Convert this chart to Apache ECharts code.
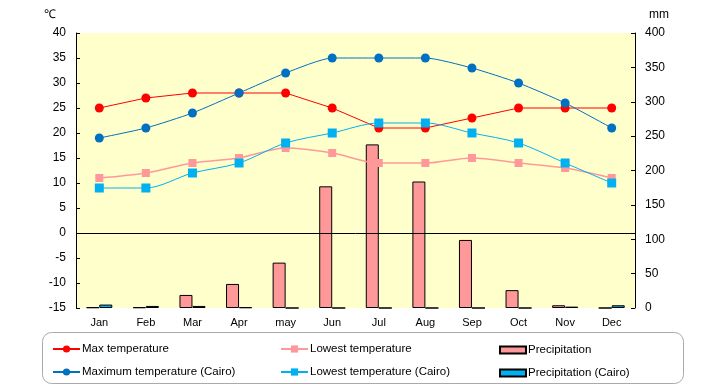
<!DOCTYPE html>
<html><head><meta charset="utf-8">
<script src="https://cdn.jsdelivr.net/npm/echarts@6/dist/echarts.min.js"></script>
<style>html,body{margin:0;padding:0;background:#fff}#c{width:720px;height:385px}</style>
</head><body><div id="c"></div>
<script>
const months = ['Jan','Feb','Mar','Apr','may','Jun','Jul','Aug','Sep','Oct','Nov','Dec'];
const maxTemp = [25,27,28,28,28,25,21,21,23,25,25,25];
const lowTemp = [11,12,14,15,17,16,14,14,15,14,13,11];
const maxCairo = [19,21,24,28,32,35,35,35,33,30,26,21];
const lowCairo = [9,9,12,14,18,20,22,22,20,18,14,10];
const precip = [1,1,19,35,66,177,238,184,99,26,4,0];
const precipCairo = [5,3,3,1,0,0,0,0,0,0,2,4];
const tempTicks = {min:-15,max:40,interval:5};
const precipTicks = {min:0,max:400,interval:50};

const FONT = '"Liberation Sans", Arial, sans-serif';
const legendPos = [
  ['Max temperature',52,343,27,9,null],
  ['Maximum temperature (Cairo)',52,366,27,9,null],
  ['Lowest temperature',280,343,27,9,null],
  ['Lowest temperature (Cairo)',280,366,27,9,null],
  ['Precipitation',499,344,26,7,'rect'],
  ['Precipitation (Cairo)',499,367,26,7,'rect']
];
const chart = echarts.init(document.getElementById('c'));
chart.setOption({
  animation:false,
  textStyle:{fontFamily:FONT},
  grid:{left:76,right:85,top:33,bottom:77,show:true,backgroundColor:'#ffffcc',borderWidth:0},
  graphic:[
    {type:'text',left:44,top:9,style:{text:'℃',font:'12px '+FONT,fill:'#000'}},
    {type:'text',left:649,top:9,style:{text:'mm',font:'12px '+FONT,fill:'#000'}},
    {type:'rect',shape:{x:42.5,y:332.5,width:641,height:51,r:9},style:{fill:'#fff',stroke:'#aaa',lineWidth:1},z:-1}
  ],
  legend:legendPos.map(([n,l,t,w,h,ic])=>{
    const o={left:l,top:t,padding:0,itemWidth:w,itemHeight:h,
      textStyle:{fontSize:11.5,fontFamily:FONT,color:'#000',padding:[0,0,0,-3]},data:[n]};
    if(ic) o.icon=ic;
    return o;
  }),
  xAxis:{type:'category',data:months,boundaryGap:true,axisLine:{show:false},axisTick:{show:false},
    axisLabel:{color:'#000',fontSize:11,margin:9}},
  yAxis:[
    {type:'value',min:tempTicks.min,max:tempTicks.max,interval:tempTicks.interval,
      axisLine:{show:true,lineStyle:{color:'#000'}},axisTick:{show:true,inside:true,length:4,lineStyle:{color:'#000'}},
      splitLine:{show:false},axisLabel:{color:'#000',fontSize:12,margin:10}},
    {type:'value',min:precipTicks.min,max:precipTicks.max,interval:precipTicks.interval,position:'right',
      axisLine:{show:true,lineStyle:{color:'#000'}},axisTick:{show:true,inside:true,length:4,lineStyle:{color:'#000'}},
      splitLine:{show:false},axisLabel:{color:'#000',fontSize:12,margin:10}}
  ],
  series:[
    {name:'Precipitation',type:'bar',yAxisIndex:1,data:precip,barWidth:13,barGap:'0%',
      itemStyle:{color:'#ff9999',borderColor:'#000',borderWidth:1},z:1},
    {name:'Precipitation (Cairo)',type:'bar',yAxisIndex:1,data:precipCairo,barWidth:13,
      itemStyle:{color:'#00b0f0',borderColor:'#000',borderWidth:1},z:1},
    {name:'Max temperature',type:'line',data:maxTemp,symbol:'circle',symbolSize:9,
      itemStyle:{color:'#ff0000'},lineStyle:{color:'#ff0000',width:1},z:5,
      markLine:{silent:true,symbol:'none',label:{show:false},lineStyle:{color:'#000',type:'solid',width:1},
        data:[{yAxis:0}]}},
    {name:'Lowest temperature',type:'line',data:lowTemp,symbol:'rect',symbolSize:8,smooth:0.3,
      itemStyle:{color:'#ff9999'},lineStyle:{color:'#ff9999',width:1.5},z:4},
    {name:'Maximum temperature (Cairo)',type:'line',data:maxCairo,symbol:'circle',symbolSize:9,smooth:0.2,
      itemStyle:{color:'#0070c0'},lineStyle:{color:'#0070c0',width:1},z:5},
    {name:'Lowest temperature (Cairo)',type:'line',data:lowCairo,symbol:'rect',symbolSize:9,smooth:0.3,
      itemStyle:{color:'#00b0f0'},lineStyle:{color:'#00b0f0',width:1},z:5}
  ]
});
</script></body></html>
